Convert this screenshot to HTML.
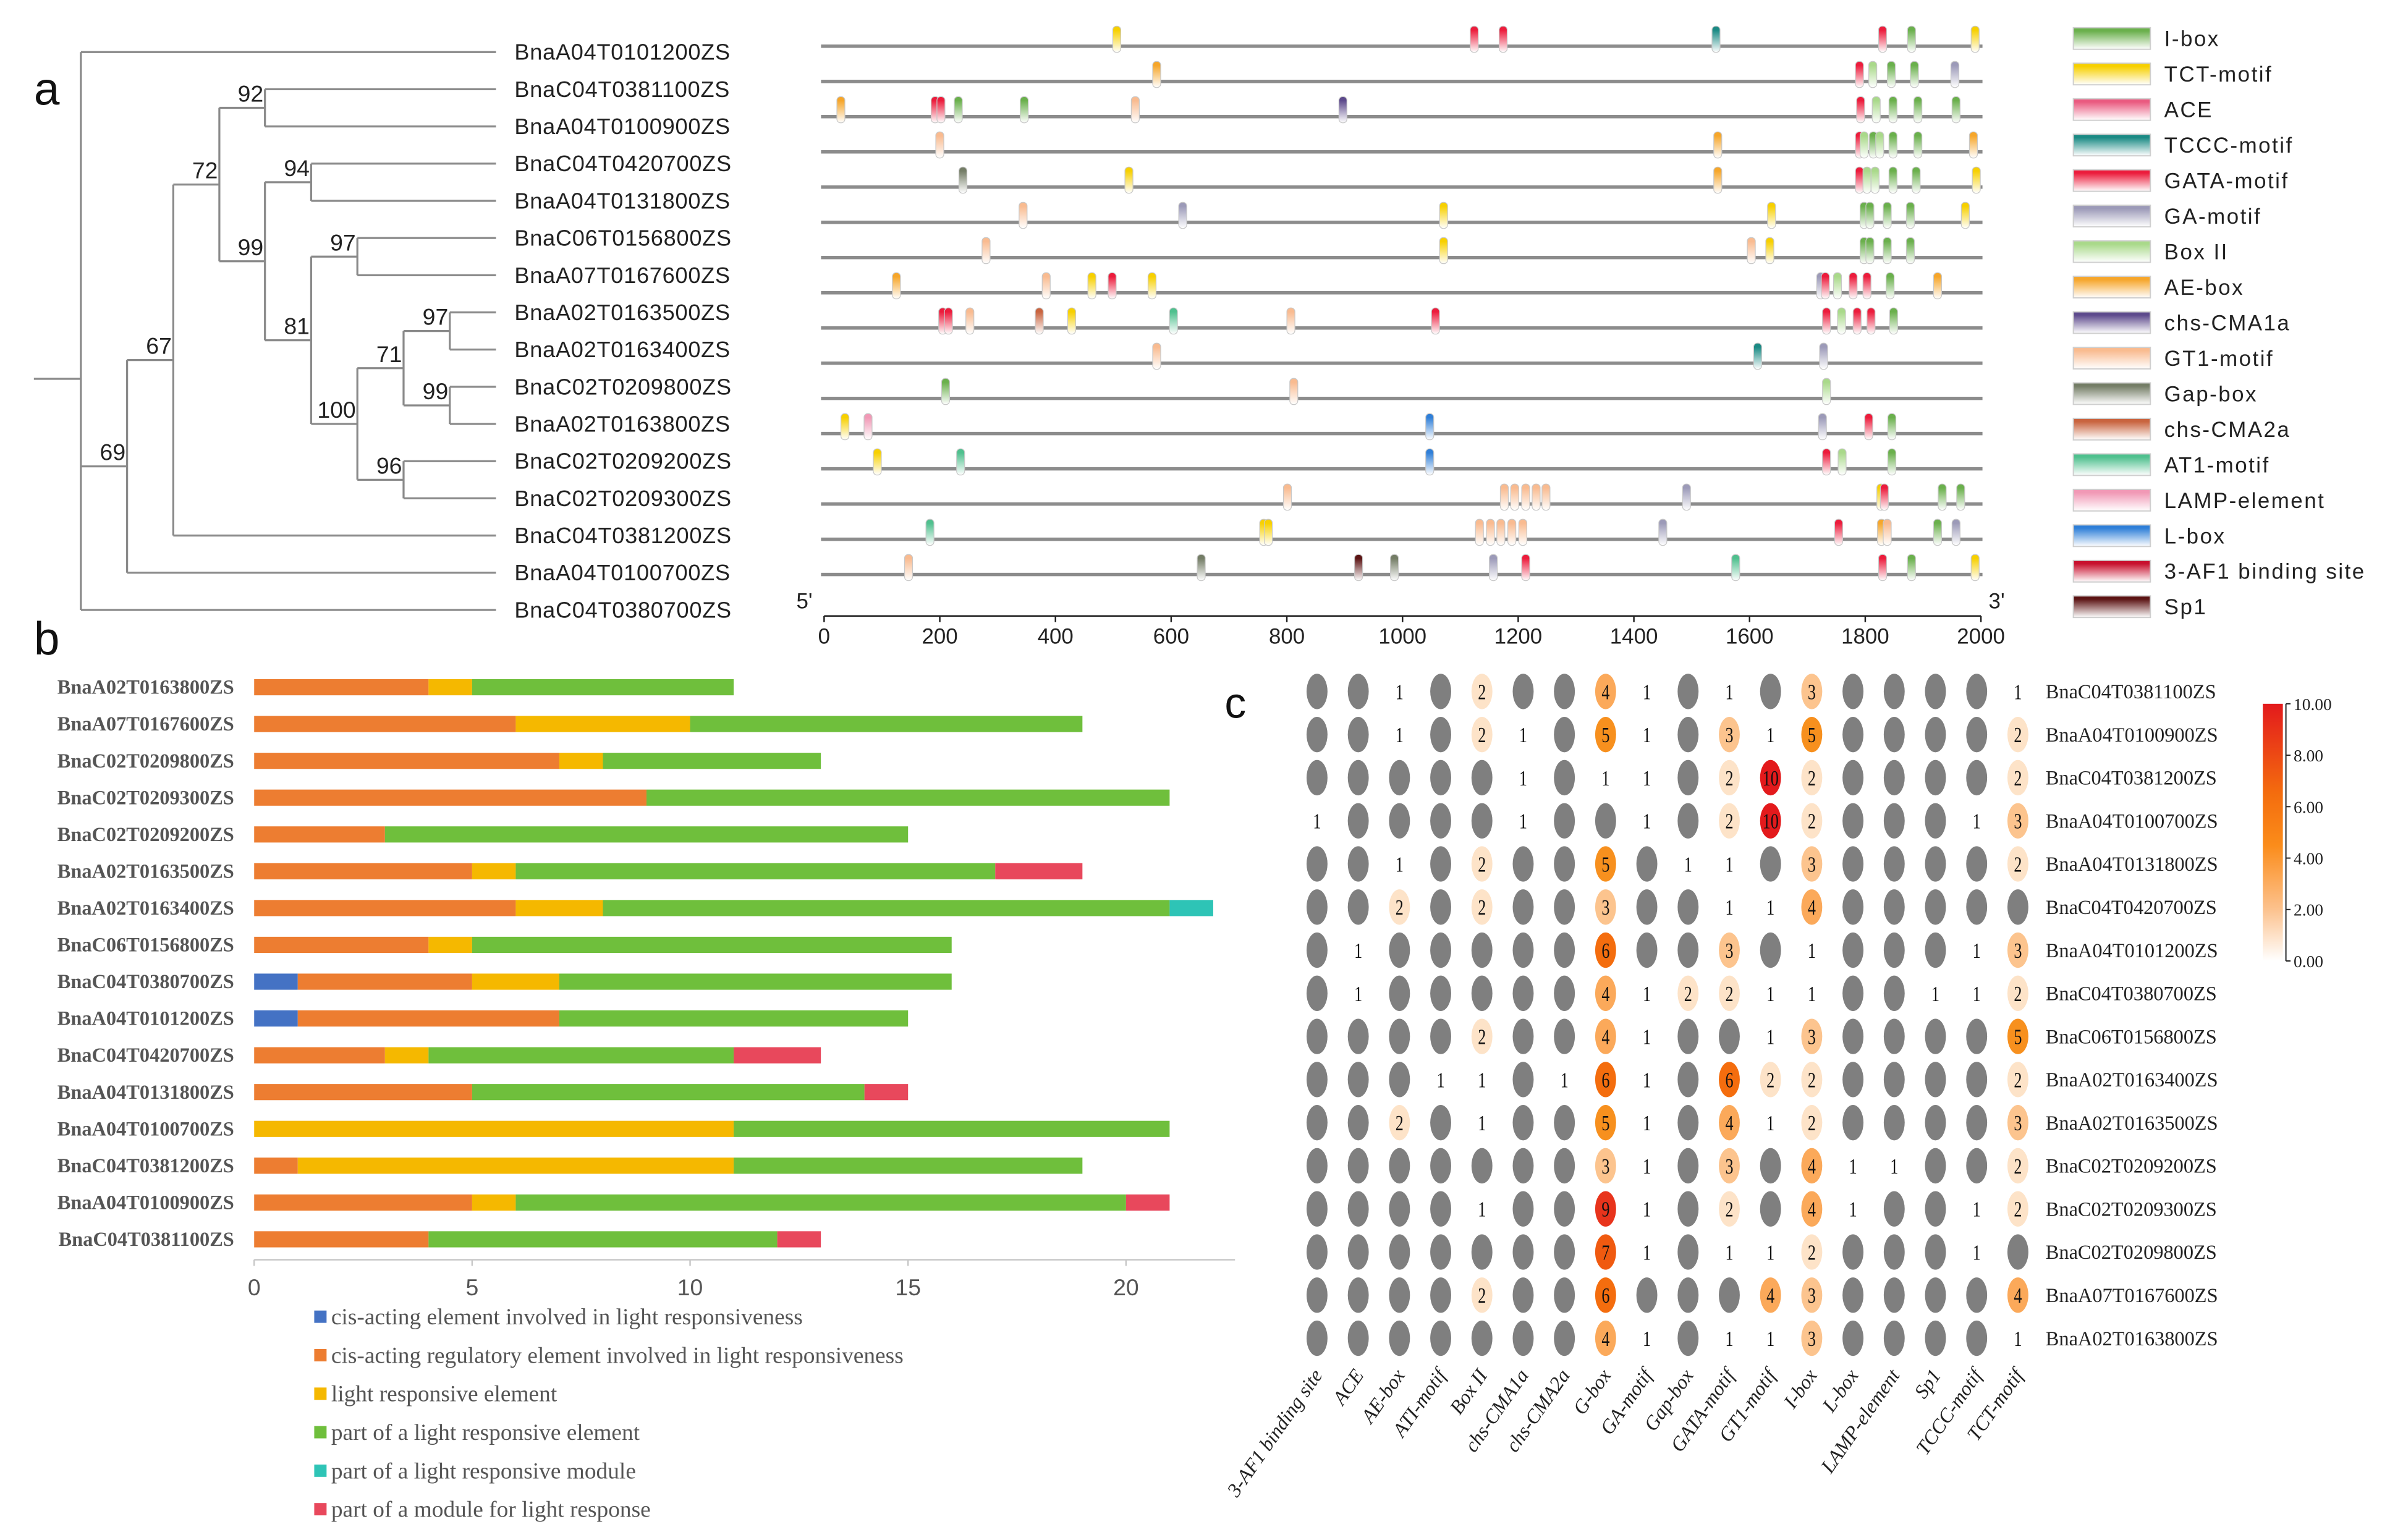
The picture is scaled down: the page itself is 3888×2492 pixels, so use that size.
<!DOCTYPE html>
<html><head><meta charset="utf-8">
<style>
html,body{margin:0;padding:0;background:#fff;}
svg{display:block;}
.sans{font-family:"Liberation Sans",sans-serif;}
.serif{font-family:"Liberation Serif",serif;}
</style></head>
<body>
<svg id="fig" width="3888" height="2492" viewBox="0 0 1560 1000" preserveAspectRatio="none" xmlns="http://www.w3.org/2000/svg">
<defs id="defs"></defs>
<g id="panelA"></g>
<g id="panelB"></g>
<g id="panelC"></g>
</svg>
<script>
// ---------- Panel a data ----------
const motifNames = ["I-box","TCT-motif","ACE","TCCC-motif","GATA-motif","GA-motif","Box II","AE-box","chs-CMA1a","GT1-motif","Gap-box","chs-CMA2a","AT1-motif","LAMP-element","L-box","3-AF1 binding site","Sp1"];
const motifColors = ["#6ab04c","#f7d000","#ea5a80","#1a8a84","#ec1c3c","#9c9ab8","#a9d98a","#f6a62a","#5d4a8c","#f9bb90","#747d66","#c9643f","#4fc08e","#f199b6","#2f7fd8","#c8102e","#5c1414"];
const treeLeaves = ["BnaA04T0101200ZS","BnaC04T0381100ZS","BnaA04T0100900ZS","BnaC04T0420700ZS","BnaA04T0131800ZS","BnaC06T0156800ZS","BnaA07T0167600ZS","BnaA02T0163500ZS","BnaA02T0163400ZS","BnaC02T0209800ZS","BnaA02T0163800ZS","BnaC02T0209200ZS","BnaC02T0209300ZS","BnaC04T0381200ZS","BnaA04T0100700ZS","BnaC04T0380700ZS"];
const treeNodes = [
  {id:"n92",lvl:5,kids:[1,2],bs:"92"},
  {id:"n94",lvl:6,kids:[3,4],bs:"94"},
  {id:"n97a",lvl:7,kids:[5,6],bs:"97"},
  {id:"n97b",lvl:9,kids:[7,8],bs:"97"},
  {id:"n99b",lvl:9,kids:[9,10],bs:"99"},
  {id:"n71",lvl:8,kids:["n97b","n99b"],bs:"71"},
  {id:"n96",lvl:8,kids:[11,12],bs:"96"},
  {id:"n100",lvl:7,kids:["n71","n96"],bs:"100"},
  {id:"n81",lvl:6,kids:["n97a","n100"],bs:"81"},
  {id:"n99",lvl:5,kids:["n94","n81"],bs:"99"},
  {id:"n72",lvl:4,kids:["n92","n99"],bs:"72"},
  {id:"n67",lvl:3,kids:["n72",13],bs:"67"},
  {id:"n69",lvl:2,kids:["n67",14],bs:"69"},
  {id:"root",lvl:1,kids:[0,"n69",15],bs:""}
];
const motifRows = [
  [[1,506],[4,1124],[4,1174],[3,1542],[4,1830],[0,1880],[1,1990]],
  [[7,575],[4,1790],[6,1813],[0,1845],[0,1885],[5,1955]],
  [[7,29],[4,192],[4,202],[0,232],[0,346],[9,538],[8,897],[4,1792],[6,1819],[0,1848],[0,1891],[0,1957]],
  [[9,200],[7,1545],[4,1790],[6,1798],[0,1814],[6,1825],[0,1848],[0,1891],[7,1987]],
  [[10,240],[1,527],[7,1545],[4,1790],[6,1803],[6,1817],[0,1848],[0,1888],[1,1992]],
  [[9,344],[5,620],[1,1071],[1,1638],[0,1798],[0,1808],[0,1838],[0,1878],[1,1973]],
  [[9,280],[1,1071],[9,1603],[1,1635],[0,1798],[0,1808],[0,1838],[0,1878]],
  [[7,125],[9,384],[1,463],[4,498],[1,567],[5,1723],[4,1731],[6,1752],[4,1779],[4,1803],[0,1843],[7,1925]],
  [[4,205],[4,215],[9,252],[11,372],[1,428],[12,604],[9,807],[4,1057],[4,1733],[6,1759],[4,1786],[4,1810],[0,1849]],
  [[9,575],[3,1614],[5,1728]],
  [[0,210],[9,812],[6,1733]],
  [[1,36],[13,76],[14,1047],[5,1726],[4,1806],[0,1846]],
  [[1,92],[12,236],[14,1047],[4,1733],[6,1760],[0,1846]],
  [[9,801],[9,1176],[9,1194],[9,1213],[9,1231],[9,1248],[5,1491],[1,1827],[4,1833],[0,1933],[0,1965]],
  [[12,183],[1,760],[1,768],[9,1133],[9,1152],[9,1170],[9,1189],[9,1208],[5,1450],[4,1754],[7,1828],[9,1838],[0,1925],[5,1957]],
  [[9,146],[10,652],[16,924],[10,986],[5,1157],[4,1213],[12,1576],[4,1830],[0,1880],[1,1990]]
];
const axisTicksA = [0,200,400,600,800,1000,1200,1400,1600,1800,2000];

// ---------- Panel b data ----------
const barGenes = ["BnaA02T0163800ZS","BnaA07T0167600ZS","BnaC02T0209800ZS","BnaC02T0209300ZS","BnaC02T0209200ZS","BnaA02T0163500ZS","BnaA02T0163400ZS","BnaC06T0156800ZS","BnaC04T0380700ZS","BnaA04T0101200ZS","BnaC04T0420700ZS","BnaA04T0131800ZS","BnaA04T0100700ZS","BnaC04T0381200ZS","BnaA04T0100900ZS","BnaC04T0381100ZS"];
const sBlue   = [0,0,0,0,0,0,0,0,1,1,0,0,0,0,0,0];
const sOrange = [4,6,7,9,3,5,6,4,4,6,3,5,0,1,5,4];
const sYellow = [1,4,1,0,0,1,2,1,2,0,1,0,11,10,1,0];
const sGreen  = [6,9,5,12,12,11,13,11,9,8,7,9,10,8,14,8];
const sTeal   = [0,0,0,0,0,0,1,0,0,0,0,0,0,0,0,0];
const sRed    = [0,0,0,0,0,2,0,0,0,0,2,1,0,0,1,1];
const barSeriesNames = ["cis-acting element involved in light responsiveness","cis-acting regulatory element involved in light responsiveness","light responsive element","part of a light responsive element","part of a light responsive module","part of a module for light response"];
const barColors = ["#4472c4","#ed7d31","#f5b800","#6fbf3c","#2ec4b6","#e8485c"];
const barTicks = [0,5,10,15,20];

// ---------- Panel c data ----------
const hmCols = ["3-AF1 binding site","ACE","AE-box","ATI-motif","Box II","chs-CMA1a","chs-CMA2a","G-box","GA-motif","Gap-box","GATA-motif","GT1-motif","I-box","L-box","LAMP-element","Sp1","TCCC-motif","TCT-motif"];
const hmRows = ["BnaC04T0381100ZS","BnaA04T0100900ZS","BnaC04T0381200ZS","BnaA04T0100700ZS","BnaA04T0131800ZS","BnaC04T0420700ZS","BnaA04T0101200ZS","BnaC04T0380700ZS","BnaC06T0156800ZS","BnaA02T0163400ZS","BnaA02T0163500ZS","BnaC02T0209200ZS","BnaC02T0209300ZS","BnaC02T0209800ZS","BnaA07T0167600ZS","BnaA02T0163800ZS"];
const hmValues = [
 [0,0,1,0,2,0,0,4,1,0,1,0,3,0,0,0,0,1],
 [0,0,1,0,2,1,0,5,1,0,3,1,5,0,0,0,0,2],
 [0,0,0,0,0,1,0,1,1,0,2,10,2,0,0,0,0,2],
 [1,0,0,0,0,1,0,0,1,0,2,10,2,0,0,0,1,3],
 [0,0,1,0,2,0,0,5,0,1,1,0,3,0,0,0,0,2],
 [0,0,2,0,2,0,0,3,0,0,1,1,4,0,0,0,0,0],
 [0,1,0,0,0,0,0,6,0,0,3,0,1,0,0,0,1,3],
 [0,1,0,0,0,0,0,4,1,2,2,1,1,0,0,1,1,2],
 [0,0,0,0,2,0,0,4,1,0,0,1,3,0,0,0,0,5],
 [0,0,0,1,1,0,1,6,1,0,6,2,2,0,0,0,0,2],
 [0,0,2,0,1,0,0,5,1,0,4,1,2,0,0,0,0,3],
 [0,0,0,0,0,0,0,3,1,0,3,0,4,1,1,0,0,2],
 [0,0,0,0,1,0,0,9,1,0,2,0,4,1,0,0,1,2],
 [0,0,0,0,0,0,0,7,1,0,1,1,2,0,0,0,1,0],
 [0,0,0,0,2,0,0,6,0,0,0,4,3,0,0,0,0,4],
 [0,0,0,0,0,0,0,4,1,0,1,1,3,0,0,0,0,1]
];
const cbTicks = ["10.00","8.00","6.00","4.00","2.00","0.00"];

// ---------- helpers ----------
const NS="http://www.w3.org/2000/svg";
function mk(tag, attrs, parent){const e=document.createElementNS(NS,tag);for(const k in attrs)e.setAttribute(k,attrs[k]);parent.appendChild(e);return e;}
const defs=document.getElementById('defs');
motifColors.forEach((c,i)=>{
  const g=mk('linearGradient',{id:'mg'+i,x1:0,y1:0,x2:0,y2:1},defs);
  mk('stop',{offset:'0',"stop-color":c},g);
  mk('stop',{offset:'0.15',"stop-color":c},g);
  mk('stop',{offset:'1',"stop-color":'#ffffff'},g);
});
{
  const g=mk('linearGradient',{id:'cbg',x1:0,y1:0,x2:0,y2:1},defs);
  [["0","#e31a1c"],["0.35","#f46d0e"],["0.55","#fb8c1a"],["0.8","#fcc28e"],["1","#ffffff"]].forEach(s=>mk('stop',{offset:s[0],"stop-color":s[1]},g));
}

// ---------- Panel a ----------
const A=document.getElementById('panelA');
let t=mk('text',{x:22,y:68,"font-size":30,class:"sans",fill:"#111"},A); t.textContent="a";
 
const leafY0=33.8, leafDy=24.15, leafEndX=322;
const lvlX=[0,52.5,82.5,112.5,142.4,172,202,232,262,292];
const leafY=i=>leafY0+i*leafDy;
const nodeInfo={};
const treeG=mk('g',{},A);
 
function kidY(k){return typeof k==="number"?leafY(k):nodeInfo[k].y;}
treeNodes.forEach(n=>{
  const x=lvlX[n.lvl];
  const ys=n.kids.map(kidY);
  const y=n.id==="root"?246:(Math.min(...ys)+Math.max(...ys))/2;
  nodeInfo[n.id]={x,y};
  mk('line',{x1:x,y1:Math.min(...ys),x2:x,y2:Math.max(...ys),stroke:"#8a8a8a","stroke-width":1.3},treeG);
  n.kids.forEach(k=>{
    const ky=kidY(k);
    const kx=typeof k==="number"?leafEndX:nodeInfo[k].x;
    mk('line',{x1:x,y1:ky,x2:kx,y2:ky,stroke:"#8a8a8a","stroke-width":1.3},treeG);
  });
  if(n.bs){const b=mk('text',{x:x-1,y:y-4,"font-size":15,class:"sans",fill:"#222","text-anchor":"end"},treeG);b.textContent=n.bs;
     }
});
mk('line',{x1:22,y1:246,x2:52.5,y2:246,stroke:"#8a8a8a","stroke-width":1.3},treeG);
treeLeaves.forEach((nm,i)=>{
  const e=mk('text',{x:334,y:leafY(i)+5,"font-size":14.5,class:"sans",fill:"#222","letter-spacing":"0.3"},A);e.textContent=nm;
   
});
const bpX=bp=>535+bp*(1286-535)/2000;
const lineY0=30, lineDy=22.87;
motifRows.forEach((row,i)=>{
  const y=lineY0+i*lineDy;
  const g=mk('g',{},A);
   
  mk('line',{x1:533,y1:y,x2:1287,y2:y,stroke:"#8c8c8c","stroke-width":2.2},g);
  row.forEach(m=>{
    const r=mk('rect',{x:bpX(m[1])-2.6,y:y-13,width:5.2,height:17,rx:2.4,fill:'url(#mg'+m[0]+')',stroke:"#c8c8c8","stroke-width":0.5},g);
    
    
  });
});
{
  const g=mk('g',{},A);
   
  mk('line',{x1:bpX(0),y1:400,x2:bpX(2000),y2:400,stroke:"#222","stroke-width":1},g);
  axisTicksA.forEach(v=>{
    mk('line',{x1:bpX(v),y1:400,x2:bpX(v),y2:404,stroke:"#222","stroke-width":1},g);
    const e=mk('text',{x:bpX(v),y:418,"font-size":14,class:"sans",fill:"#222","text-anchor":"middle"},g);e.textContent=v;
     
  });
  let e=mk('text',{x:517,y:395,"font-size":14,class:"sans",fill:"#222"},g);e.textContent="5'";
   
  e=mk('text',{x:1291,y:395,"font-size":14,class:"sans",fill:"#222"},g);e.textContent="3'";
   
}
motifNames.forEach((nm,i)=>{
  const y=18+i*23.06;
  const g=mk('g',{},A);
   
  mk('rect',{x:1346,y:y,width:50,height:14,fill:'url(#mg'+i+')',stroke:"#cfcfcf","stroke-width":0.8},g);
  const e=mk('text',{x:1405,y:y+12,"font-size":14,class:"sans",fill:"#222","letter-spacing":"1"},g);e.textContent=nm;
});

// ---------- Panel b ----------
const B=document.getElementById('panelB');
t=mk('text',{x:22,y:425,"font-size":30,class:"sans",fill:"#111"},B); t.textContent="b";
 
const bx=v=>165+v*(731-165)/20;
const by=i=>446+i*23.9;
const series=[sBlue,sOrange,sYellow,sGreen,sTeal,sRed];
barGenes.forEach((gname,i)=>{
  const e=mk('text',{x:152,y:by(i)+4.5,"font-size":13,class:"serif",fill:"#555","font-weight":"bold","text-anchor":"end"},B);e.textContent=gname;
   
  let acc=0;
  series.forEach((s,k)=>{
    if(s[i]>0){
      const r=mk('rect',{x:bx(acc),y:by(i)-5,width:bx(acc+s[i])-bx(acc),height:10.5,fill:barColors[k]},B);
       
    }
    acc+=s[i];
  });
});
{
  const g=mk('g',{},B);
   
  mk('line',{x1:bx(0),y1:818,x2:bx(22.5),y2:818,stroke:"#c8c8c8","stroke-width":1},g);
  barTicks.forEach(v=>{
    mk('line',{x1:bx(v),y1:818,x2:bx(v),y2:822,stroke:"#c8c8c8","stroke-width":1},g);
    const e=mk('text',{x:bx(v),y:841,"font-size":15,class:"sans",fill:"#555","text-anchor":"middle"},g);e.textContent=v;
     
  });
}
barSeriesNames.forEach((nm,k)=>{
  const y=856+k*25;
  const g=mk('g',{},B);
   
  mk('rect',{x:204,y:y-5,width:8,height:8,fill:barColors[k]},g);
  const e=mk('text',{x:215,y:y+4,"font-size":15,class:"serif",fill:"#555"},g);e.textContent=nm;
});

// ---------- Panel c ----------
const C=document.getElementById('panelC');
t=mk('text',{x:795,y:466,"font-size":28,class:"sans",fill:"#111"},C); t.textContent="c";
 
const cx=j=>855+j*(1310-855)/17;
const cy=i=>449+i*28;
function heatColor(v){
  const stops=[[1,[255,255,255]],[2,[253,227,200]],[3,[252,196,142]],[4,[251,169,90]],[5,[247,144,30]],[6,[244,109,14]],[7,[240,90,16]],[9,[232,52,28]],[10,[227,26,28]]];
  for(let k=0;k<stops.length-1;k++){const a=stops[k],b=stops[k+1];if(v<=b[0]){const f=(v-a[0])/(b[0]-a[0]);return 'rgb('+a[1].map((c,q)=>Math.round(c+(b[1][q]-c)*f)).join(',')+')';}}
  return 'rgb(227,26,28)';
}
hmRows.forEach((rn,i)=>{
  hmValues[i].forEach((v,j)=>{
    const g=mk('g',{},C);
     
    if(v===0){
      mk('ellipse',{cx:cx(j),cy:cy(i),rx:6.8,ry:11.5,fill:"#7f7f7f"},g);
    }else{
      if(v>1) mk('ellipse',{cx:cx(j),cy:cy(i),rx:6.8,ry:11.5,fill:heatColor(v)},g);
      const e=mk('text',{x:0,y:0,"font-size":14,class:"serif",fill:"#111","text-anchor":"middle",transform:'translate('+cx(j)+','+(cy(i)+5)+') scale(0.75,1)'},g);e.textContent=v;
    }
  });
  const e=mk('text',{x:1328,y:cy(i)+4.5,"font-size":13,class:"serif",fill:"#222"},C);e.textContent=rn;
   
});
hmCols.forEach((cn,j)=>{
  const e=mk('text',{x:0,y:0,"font-size":13,class:"serif","font-style":"italic",fill:"#222","text-anchor":"end",transform:'translate('+(cx(j)+4)+',893) rotate(-55)'},C);e.textContent=cn;
   
});
{
  const g=mk('g',{},C);
   
  mk('rect',{x:1469,y:457,width:13,height:167,fill:'url(#cbg)'},g);
  mk('line',{x1:1484,y1:457,x2:1484,y2:624,stroke:"#222","stroke-width":0.8},g);
  cbTicks.forEach((l,k)=>{
    const y=457+k*167/5;
    mk('line',{x1:1484,y1:y,x2:1487,y2:y,stroke:"#222","stroke-width":0.8},g);
    const e=mk('text',{x:1489,y:y+4,"font-size":11,class:"serif",fill:"#222"},g);e.textContent=l;
     
  });
}
</script>
</body></html>
